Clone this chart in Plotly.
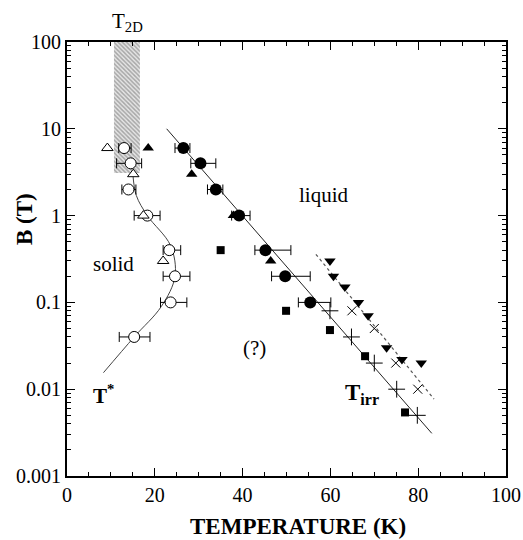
import plotly.graph_objects as go

# ---- data ----
# T* (open circles) with horizontal error bars
ts_T = [13.0, 14.5, 14.0, 18.3, 23.3, 24.6, 23.6, 15.3]
ts_B = [6, 4, 2, 1, 0.4, 0.2, 0.1, 0.04]
ts_lo = [11.8, 11.3, 12.5, 15.3, 21.9, 21.9, 21.3, 11.9]
ts_hi = [14.6, 17.0, 15.7, 21.2, 25.9, 28.0, 27.3, 18.9]

# Tirr (filled circles) with horizontal error bars
ti_T = [26.5, 30.4, 33.9, 39.2, 45.2, 49.7, 55.4]
ti_B = [6, 4, 2, 1, 0.4, 0.2, 0.1]
ti_lo = [24.6, 28.2, 32.0, 37.5, 42.8, 46.6, 52.7]
ti_hi = [28.0, 33.9, 35.5, 41.7, 51.0, 55.4, 60.1]

# open triangles
otri_T = [9.2, 15.1, 17.4, 21.9]
otri_B = [6, 3, 1, 0.3]
# filled triangles
ftri_T = [18.5, 28.4, 37.9, 46.4]
ftri_B = [6, 3, 1, 0.3]
# filled squares
sq_T = [35.0, 49.9, 59.9, 67.9, 77.0]
sq_B = [0.4, 0.08, 0.048, 0.024, 0.0054]
# plus markers
pl_T = [59.9, 64.8, 70.0, 75.1, 79.8]
pl_B = [0.08, 0.04, 0.02, 0.01, 0.005]
# x markers
xm_T = [64.9, 70.0, 74.9, 79.9]
xm_B = [0.08, 0.05, 0.02, 0.01]
# filled inverted triangles
dtri_T = [59.9, 60.7, 63.3, 66.4, 68.6, 72.8, 76.3, 80.7]
dtri_B = [0.3, 0.2, 0.15, 0.1, 0.07, 0.03, 0.022, 0.02]

# guide curve for T*
curve_T = [8.3, 15.3, 21.5, 24.6, 23.6, 18.3, 15.8, 15.0]
curve_B = [0.0155, 0.04, 0.09, 0.2, 0.45, 1.0, 1.7, 3.0]
# Tirr solid line, dashed line
line_T = [22.7, 83.1]
line_B = [10, 0.0031]
dash_T = [56.7, 83.6]
dash_B = [0.358, 0.0077]

# T2D hatched band
band_T = [10.7, 16.6]
band_B = [3.1, 100]

# tick labels
x_ticks = [0, 20, 40, 60, 80, 100]
y_ticks = [0.001, 0.01, 0.1, 1, 10, 100]
y_ticktext = ["0.001", "0.01", "0.1", "1", "10", "100"]

FONT = "Liberation Serif"

fig = go.Figure()

# hatched band
fig.add_trace(go.Scatter(
    x=[band_T[0], band_T[1], band_T[1], band_T[0], band_T[0]],
    y=[band_B[0], band_B[0], band_B[1], band_B[1], band_B[0]],
    mode="lines", fill="toself", line=dict(width=0, color="rgba(0,0,0,0)"),
    fillcolor="white",
    fillpattern=dict(shape="\\", fgcolor="#666666", bgcolor="#e6e6e6", size=3, solidity=0.5),
    hoverinfo="skip", showlegend=False))

fig.add_trace(go.Scatter(x=curve_T, y=curve_B, mode="lines",
                         line=dict(color="#444444", width=1, shape="spline", smoothing=1.0),
                         showlegend=False))
fig.add_trace(go.Scatter(x=line_T, y=line_B, mode="lines",
                         line=dict(color="#222222", width=1), showlegend=False))
fig.add_trace(go.Scatter(x=dash_T, y=dash_B, mode="lines",
                         line=dict(color="#555555", width=1.2, dash="dot"), showlegend=False))

fig.add_trace(go.Scatter(
    x=ts_T, y=ts_B, mode="markers",
    marker=dict(symbol="circle", size=11, color="white", line=dict(color="black", width=1)),
    error_x=dict(type="data", symmetric=False,
                 array=[h - t for h, t in zip(ts_hi, ts_T)],
                 arrayminus=[t - l for l, t in zip(ts_lo, ts_T)],
                 color="black", thickness=1, width=5),
    showlegend=False))

fig.add_trace(go.Scatter(
    x=ti_T, y=ti_B, mode="markers",
    marker=dict(symbol="circle", size=12, color="black"),
    error_x=dict(type="data", symmetric=False,
                 array=[h - t for h, t in zip(ti_hi, ti_T)],
                 arrayminus=[t - l for l, t in zip(ti_lo, ti_T)],
                 color="black", thickness=1, width=5),
    showlegend=False))

fig.add_trace(go.Scatter(x=otri_T, y=otri_B, mode="markers",
                         marker=dict(symbol="triangle-up", size=10, color="white",
                                     line=dict(color="black", width=1)), showlegend=False))
fig.add_trace(go.Scatter(x=ftri_T, y=ftri_B, mode="markers",
                         marker=dict(symbol="triangle-up", size=10, color="black"), showlegend=False))
fig.add_trace(go.Scatter(x=sq_T, y=sq_B, mode="markers",
                         marker=dict(symbol="square", size=8, color="black"), showlegend=False))
fig.add_trace(go.Scatter(x=pl_T, y=pl_B, mode="markers",
                         marker=dict(symbol="cross-thin", size=12,
                                     line=dict(color="black", width=1)), showlegend=False))
fig.add_trace(go.Scatter(x=xm_T, y=xm_B, mode="markers",
                         marker=dict(symbol="x-thin", size=9,
                                     line=dict(color="black", width=1)), showlegend=False))
fig.add_trace(go.Scatter(x=dtri_T, y=dtri_B, mode="markers",
                         marker=dict(symbol="triangle-down", size=10, color="black"), showlegend=False))

anno_font = dict(family=FONT, size=21, color="black")
fig.add_annotation(x=58.5, y=0.232, text="liquid", showarrow=False, font=anno_font)
fig.add_annotation(x=10.7, y=-0.552, text="solid", showarrow=False, font=anno_font)
fig.add_annotation(x=42.8, y=-1.525, text="(?)", showarrow=False, font=anno_font)
fig.add_annotation(x=8.2, y=-2.06, text="<b>T<sup>*</sup></b>", showarrow=False,
                   font=dict(family=FONT, size=21, color="black"))
fig.add_annotation(x=67.2, y=-2.05, text="<b>T<sub>irr</sub></b>", showarrow=False,
                   font=dict(family=FONT, size=23, color="black"))
fig.add_annotation(x=13.7, xref="x", y=1.045, yref="paper", xanchor="center", yanchor="middle",
                   text="T<sub>2D</sub>",
                   showarrow=False, font=dict(family=FONT, size=21, color="black"))

# axis titles (placed as annotations for exact position)
fig.add_annotation(x=0.526, y=-0.1175, xref="paper", yref="paper",
                   xanchor="center", yanchor="middle",
                   text="<b>TEMPERATURE (K)</b>", showarrow=False,
                   font=dict(family=FONT, size=23, color="black"))
fig.add_annotation(x=-0.098, y=0.592, xref="paper", yref="paper", textangle=-90,
                   xanchor="center", yanchor="middle",
                   text="<b>B (T)</b>", showarrow=False,
                   font=dict(family=FONT, size=23, color="black"))

axis_common = dict(showline=True, linecolor="black", linewidth=2, mirror="ticks",
                   ticks="inside", ticklen=8, tickwidth=1, tickcolor="black",
                   showgrid=False, zeroline=False, automargin=False,
                   tickfont=dict(family=FONT, size=20, color="black"))

y_minor = [k * 10.0 ** e for e in range(-3, 2) for k in range(2, 10)]

fig.update_xaxes(range=[0, 100], tickmode="array", tickvals=x_ticks,
                 ticktext=[str(v) for v in x_ticks],
                 minor=dict(ticks="inside", ticklen=4, tickmode="linear", tick0=0, dtick=5,
                            tickcolor="black", showgrid=False),
                 **axis_common)
fig.update_yaxes(type="log", range=[-3, 2], tickmode="array",
                 tickvals=y_ticks, ticktext=y_ticktext,
                 minor=dict(ticks="inside", ticklen=4, tickmode="array", tickvals=y_minor,
                            tickcolor="black", showgrid=False),
                 **axis_common)

fig.update_layout(width=523, height=540, margin=dict(l=67, r=17, t=42, b=64),
                  font=dict(family=FONT, color="black"),
                  plot_bgcolor="white", paper_bgcolor="white", showlegend=False)

fig.write_html("out.html")
